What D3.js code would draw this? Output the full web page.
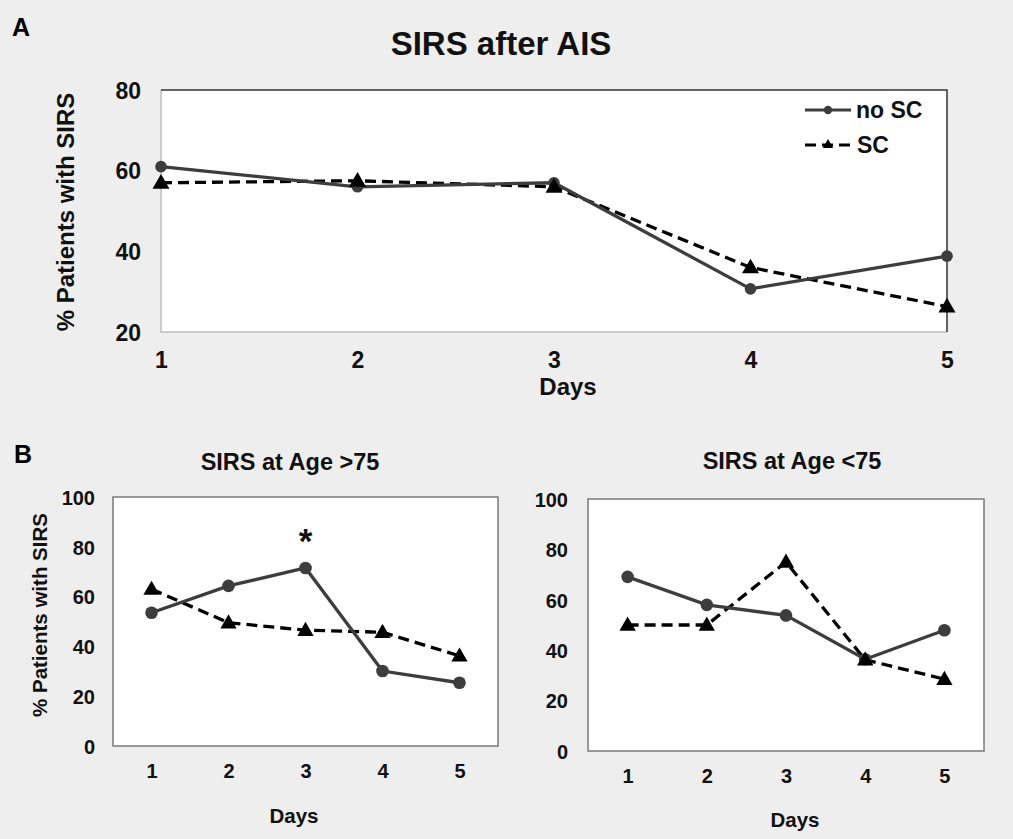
<!DOCTYPE html>
<html>
<head>
<meta charset="utf-8">
<script src="https://cdn.jsdelivr.net/npm/d3@7"></script>
<style>
  html, body { margin: 0; padding: 0; background: #eeeeee; }
  svg { display: block; font-family: Arial, "Liberation Sans", sans-serif; font-weight: bold; }
</style>
</head>
<body>
<svg id="chart" width="1013" height="839"></svg>
<script>
// data
var days = [1, 2, 3, 4, 5];

var allNoSC = [61, 56, 57, 30.7, 38.8];
var allSC = [57, 57.5, 56, 36, 26.3];

var oldNoSC = [53.5, 64.3, 71.5, 30.1, 25.4];
var oldSC = [63, 49.5, 46.5, 45.7, 36.2];

var youngNoSC = [69.1, 58, 53.8, 36.4, 47.9];
var youngSC = [50, 50, 75, 36.2, 28.5];

var ticksTop = [20, 40, 60, 80];
var ticksBottom = [0, 20, 40, 60, 80, 100];

var svg = d3.select('#chart');

svg.append('text').attr('x', 12).attr('y', 36).style('font-size', '25px').text('A');
svg.append('text').attr('x', 14).attr('y', 463).style('font-size', '25px').text('B');

var triangle = d3.symbol().type(d3.symbolTriangle);

function drawPanel(opt) {
    var g = svg.append('g');

    var x = d3.scalePoint().domain(days).range([opt.left, opt.right]).padding(opt.pad);
    var y = d3.scaleLinear().domain(opt.domain).range([opt.bottom, opt.top]);

    g.append('rect')
        .attr('x', opt.left).attr('y', opt.top)
        .attr('width', opt.right - opt.left).attr('height', opt.bottom - opt.top)
        .attr('fill', '#fff')
        .attr('stroke', opt.frame ? 'none' : '#7a7a7a')
        .attr('stroke-width', 1.5);

    if (opt.frame) {
        // excel-style frame: dark top/right, light left/bottom
        g.append('path').attr('fill', 'none').attr('stroke', '#bdbdbd').attr('stroke-width', 1.5)
            .attr('d', 'M' + opt.left + ',' + opt.top + 'V' + opt.bottom + 'H' + opt.right);
        g.append('path').attr('fill', 'none').attr('stroke', '#333').attr('stroke-width', 1.5)
            .attr('d', 'M' + opt.left + ',' + opt.top + 'H' + opt.right + 'V' + opt.bottom);
    }

    var yAxis = g.append('g')
        .attr('transform', 'translate(' + opt.yTickX + ',0)')
        .call(d3.axisLeft(y).tickValues(opt.ticks).tickSize(0).tickPadding(0));
    yAxis.select('.domain').remove();
    yAxis.selectAll('text')
        .attr('fill', '#111')
        .style('font-size', opt.tickSize + 'px')
        .style('font-family', 'Arial, "Liberation Sans", sans-serif')
        .style('font-weight', 'bold')
        .attr('dy', '0.36em');

    var xAxis = g.append('g')
        .attr('transform', 'translate(0,' + opt.xTickY + ')')
        .call(d3.axisBottom(x).tickSize(0).tickPadding(0));
    xAxis.select('.domain').remove();
    xAxis.selectAll('text')
        .attr('fill', '#111')
        .attr('dy', 0)
        .attr('y', 0)
        .style('font-size', opt.tickSize + 'px')
        .style('font-family', 'Arial, "Liberation Sans", sans-serif')
        .style('font-weight', 'bold');

    g.append('text').attr('x', opt.titleX).attr('y', opt.titleY)
        .attr('text-anchor', 'middle').style('font-size', opt.titleSize + 'px').attr('fill', '#111')
        .text(opt.title);

    g.append('text').attr('x', opt.daysX).attr('y', opt.daysY)
        .attr('text-anchor', 'middle').style('font-size', opt.labelSize + 'px').attr('fill', '#111')
        .text('Days');

    if (opt.yLabelX) {
        g.append('text')
            .attr('transform', 'translate(' + opt.yLabelX + ',' + opt.yLabelY + ') rotate(-90)')
            .attr('text-anchor', 'middle').style('font-size', opt.yLabelSize + 'px').attr('fill', '#111')
            .text('% Patients with SIRS');
    }

    var line = d3.line()
        .x(function(d, i) { return x(days[i]); })
        .y(function(d) { return y(d); });

    g.append('path').datum(opt.sc)
        .attr('fill', 'none').attr('stroke', '#000').attr('stroke-width', 3.3)
        .attr('stroke-dasharray', '11,6')
        .attr('d', line);

    g.append('path').datum(opt.noSC)
        .attr('fill', 'none').attr('stroke', '#3d3d3d').attr('stroke-width', 3.3)
        .attr('d', line);

    g.selectAll('.dot').data(opt.noSC).enter().append('circle')
        .attr('cx', function(d, i) { return x(days[i]); })
        .attr('cy', function(d) { return y(d); })
        .attr('r', opt.dotR)
        .attr('fill', '#3d3d3d');

    g.selectAll('.tri').data(opt.sc).enter().append('path')
        .attr('d', triangle.size(opt.triSize))
        .attr('transform', function(d, i) { return 'translate(' + x(days[i]) + ',' + (y(d) + 1) + ')'; })
        .attr('fill', '#000');

    return { g: g, x: x, y: y };
}

// panel A
var panelA = drawPanel({
    left: 161, right: 947, top: 90, bottom: 332, pad: 0,
    domain: [20, 80], ticks: ticksTop, frame: true,
    noSC: allNoSC, sc: allSC,
    yTickX: 141, xTickY: 368, tickSize: 23,
    title: 'SIRS after AIS', titleX: 501, titleY: 55, titleSize: 33,
    daysX: 568, daysY: 395, labelSize: 24,
    yLabelX: 74, yLabelY: 212, yLabelSize: 24,
    triSize: 125, dotR: 5.8
});

// legend
var leg = panelA.g.append('g');
leg.append('line').attr('x1', 805).attr('x2', 851).attr('y1', 110).attr('y2', 110)
    .attr('stroke', '#3d3d3d').attr('stroke-width', 3.2);
leg.append('circle').attr('cx', 828).attr('cy', 110).attr('r', 4.2).attr('fill', '#3d3d3d');
leg.append('text').attr('x', 856).attr('y', 118).style('font-size', '23px').attr('fill', '#111').text('no SC');
leg.append('line').attr('x1', 805).attr('x2', 851).attr('y1', 145).attr('y2', 145)
    .attr('stroke', '#000').attr('stroke-width', 3.2).attr('stroke-dasharray', '11,6');
leg.append('path').attr('d', triangle.size(45)).attr('transform', 'translate(828,145)').attr('fill', '#000');
leg.append('text').attr('x', 857).attr('y', 153).style('font-size', '23px').attr('fill', '#111').text('SC');

// panel B, left
var panelOld = drawPanel({
    left: 113, right: 498, top: 497, bottom: 746, pad: 0.5,
    domain: [0, 100], ticks: ticksBottom, frame: false,
    noSC: oldNoSC, sc: oldSC,
    yTickX: 95, xTickY: 778, tickSize: 20,
    title: 'SIRS at Age >75', titleX: 290, titleY: 470, titleSize: 23.5,
    daysX: 294, daysY: 823, labelSize: 20.5,
    yLabelX: 47, yLabelY: 615, yLabelSize: 20.5,
    triSize: 115, dotR: 6.3
});

panelOld.g.append('text')
    .attr('x', panelOld.x(3)).attr('y', panelOld.y(oldNoSC[2]) - 15)
    .attr('text-anchor', 'middle').style('font-size', '35px').attr('fill', '#111')
    .text('*');

// panel B, right
drawPanel({
    left: 588, right: 984, top: 499, bottom: 751, pad: 0.5,
    domain: [0, 100], ticks: ticksBottom, frame: false,
    noSC: youngNoSC, sc: youngSC,
    yTickX: 568, xTickY: 783, tickSize: 20,
    title: 'SIRS at Age <75', titleX: 792, titleY: 469, titleSize: 23.5,
    daysX: 795, daysY: 827, labelSize: 20.5,
    triSize: 115, dotR: 6.3
});
</script>
</body>
</html>
